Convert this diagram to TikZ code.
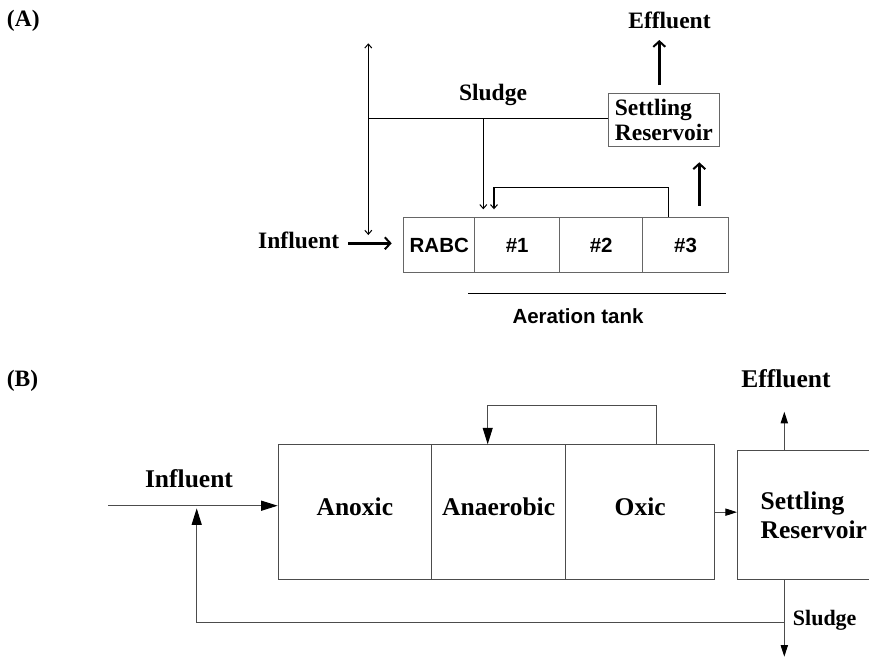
\documentclass[tikz,border=0pt]{standalone}
\usepackage{fontspec}
\setmainfont{Liberation Serif}
\newfontfamily\arialf{Liberation Sans}
\usetikzlibrary{arrows.meta}
\begin{document}
\begin{tikzpicture}[x=1pt,y=-1pt,
  lblA/.style={font=\fontsize{23.5}{25.7}\selectfont\bfseries, inner sep=0pt},
  lblB/.style={font=\fontsize{25.5}{29}\selectfont\bfseries, inner sep=0pt},
  sansA/.style={font=\arialf\fontsize{20.5}{24}\selectfont\bfseries, inner sep=0pt},
  tankA/.style={draw=black!60, line width=1pt, sansA, anchor=north west, minimum height=55pt, text height=14.7pt, text depth=0pt},
  lineA/.style={line width=1.3pt, black},
  thinTip/.style={-{Straight Barb[length=4pt,width=7pt,line width=1pt]}},
  thickA/.style={line width=2.8pt, -{Straight Barb[length=5.5pt,width=12pt,line width=2pt]}},
  lineB/.style={line width=1pt, black!70},
  boxB/.style={draw=black!70, line width=1pt, lblB, anchor=north west, minimum height=134.7pt, text height=17pt, text depth=11pt},
  bigTri/.style={-{Triangle[length=16.5pt,width=10pt,color=black]}},
  smallTri/.style={-{Triangle[length=11.7pt,width=7.3pt,color=black]}},
]
\useasboundingbox (0,0) rectangle (869,657);
\clip (0,0) rectangle (869,657);

% ---------------- Panel A ----------------
\node[lblA, anchor=base] (labA) at (23.3,26) {(A)};
\node[lblA, anchor=base] (effA) at (669.5,28.5) {Effluent};
\node[lblA, anchor=base] (sludA) at (493,100.7) {Sludge};
\node[lblA, anchor=base] (inflA) at (298.7,248) {Influent};
\node[draw=black!60, line width=1pt, lblA, align=left, minimum width=111pt, minimum height=53.7pt] (setA) at (663.8,119.85) {Settling\\Reservoir};

\node[tankA, minimum width=71pt] (rabc) at (403.3,216.7) {RABC};
\node[tankA, minimum width=84.7pt] (t1) at (474.3,216.7) {\#1};
\node[tankA, minimum width=83.3pt] (t2) at (559,216.7) {\#2};
\node[tankA, minimum width=85.4pt] (t3) at (642.3,216.7) {\#3};
\node[sansA, anchor=base] (aer) at (578,323.3) {Aeration tank};

\coordinate (vtop) at (368.3,43.3);
\coordinate (vbot) at (368.3,235);
\draw[lineA, {Straight Barb[length=4pt,width=7pt,line width=1pt]}-{Straight Barb[length=4pt,width=7pt,line width=1pt]}] (vtop) -- (vbot);
\coordinate (junc) at (368.3,118.3);
\draw[lineA] (junc) -- (junc -| setA.west);
\coordinate (sd) at (483.3,118.3);
\coordinate (sdEnd) at (483.3,209.3);
\draw[lineA, thinTip] (sd) -- (sdEnd);
\coordinate (rcTop) at (494,187.3);
\coordinate (rcEnd) at (494,209.3);
\draw[lineA, thinTip] ([xshift=-17pt]t3.north) |- (rcTop) -- (rcEnd);
\coordinate (upS) at (699.3,205.7);
\coordinate (upE) at (699.3,162.3);
\draw[thickA] (upS) -- (upE);
\coordinate (effS) at (659.3,85);
\coordinate (effE) at (659.3,40);
\draw[thickA] (effS) -- (effE);
\coordinate (inAS) at (348.3,243.3);
\coordinate (inAE) at (391.7,243.3);
\draw[thickA, line width=2.5pt] (inAS) -- (inAE);
\coordinate (aerS) at (468.3,293.3);
\coordinate (aerE) at (726,293.3);
\draw[line width=1.6pt] (aerS) -- (aerE);

% ---------------- Panel B ----------------
\node[lblB, font=\fontsize{23.5}{25}\selectfont\bfseries, anchor=base] (labB) at (22.5,386) {(B)};
\node[lblB, anchor=base] (inflB) at (189,487.5) {Influent};
\node[lblB, anchor=base] (effB) at (786,387.7) {Effluent};
\node[lblB, font=\fontsize{22}{24}\selectfont\bfseries, anchor=base] (sludB) at (824.7,625) {Sludge};

\node[boxB, minimum width=153.3pt] (anox) at (277.7,444.3) {Anoxic};
\node[boxB, minimum width=134.3pt] (anae) at (431,444.3) {Anaerobic};
\node[boxB, minimum width=148.7pt] (oxic) at (565.3,444.3) {Oxic};
\node[draw=black!70, line width=1pt, lblB, align=left, minimum width=152.6pt, minimum height=128.6pt] (setB) at (813.8,515) {Settling\\Reservoir};

\coordinate (inB) at (108.3,505.7);
\draw[lineB, bigTri] (inB) -- (inB -| anox.west);
\coordinate (sj) at (784.3,622.7);
\coordinate (retEnd) at (196.7,508.3);
\draw[lineB, bigTri] (sj) -| (retEnd);
\coordinate (sdB) at (784.3,656.7);
\draw[lineB, smallTri] (setB.south -| sj) -- (sdB);
\coordinate (effTip) at (784.3,411.7);
\draw[lineB, smallTri] (setB.north -| sj) -- (effTip);
\draw[lineB, smallTri] (oxic.east) -- (oxic.east -| setB.west);
\coordinate (rB1) at (656.7,405.7);
\coordinate (rB2) at (487.7,405.7);
\draw[lineB, bigTri] (rB1 |- oxic.north) -- (rB1) -- (rB2) -- (rB2 |- anae.north);
\end{tikzpicture}
\end{document}
